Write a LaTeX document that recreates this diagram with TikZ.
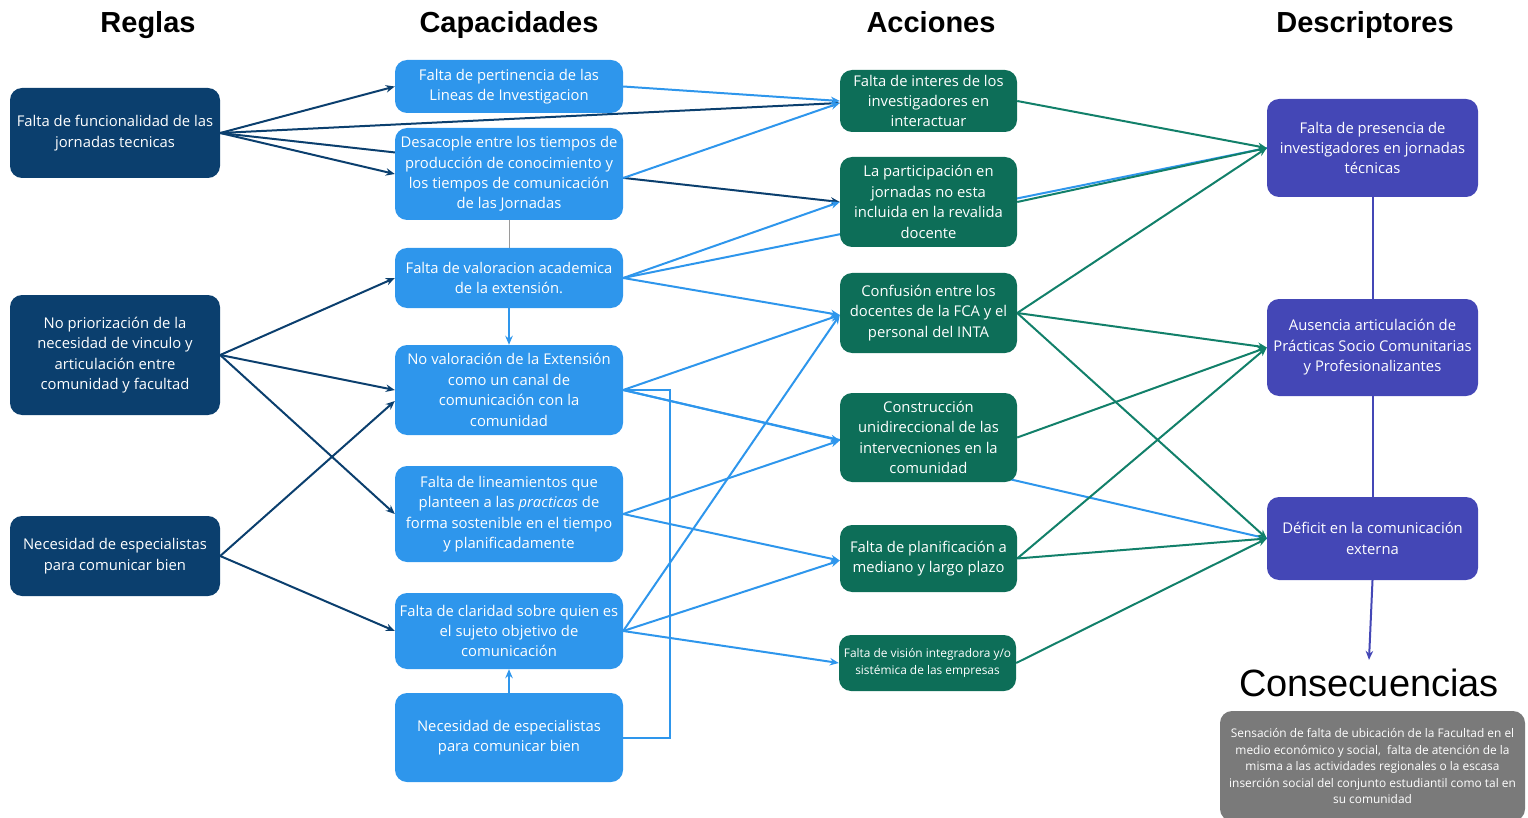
\documentclass[tikz,border=0pt]{standalone}
\usepackage{fontspec}
\setmainfont{Open Sans}
\newfontfamily\headfont{Liberation Sans}
\usetikzlibrary{arrows.meta}
\definecolor{navy}{HTML}{0B3F6E}
\definecolor{capblue}{HTML}{2E96EC}
\definecolor{actgreen}{HTML}{0D6E58}
\definecolor{linegreen}{HTML}{12806A}
\definecolor{indig}{HTML}{4447B6}
\definecolor{consgray}{HTML}{7A7A7A}
\definecolor{thingray}{HTML}{9A9A9A}
\pgfdeclarelayer{bg}
\pgfsetlayers{bg,main}
\tikzset{
  box/.style={rounded corners=12pt, text=white, align=center, inner sep=0pt,
    font=\fontsize{14.8}{20.4}\selectfont},
  rbox/.style={box, fill=navy, minimum width=210pt},
  cbox/.style={box, fill=capblue, minimum width=228pt},
  abox/.style={box, fill=actgreen, minimum width=177pt},
  dbox/.style={box, fill=indig, minimum width=211pt},
  head/.style={font=\headfont\bfseries\fontsize{29}{34}\selectfont, inner sep=0pt, anchor=base},
  tip/.style={-{Stealth[length=9pt,width=7.5pt]}},
  navline/.style={draw=navy, line width=2pt},
  navarr/.style={navline, tip},
  blueline/.style={draw=capblue, line width=2pt},
  bluearr/.style={blueline, tip},
  greenarr/.style={draw=linegreen, line width=2pt, tip},
  indline/.style={draw=indig, line width=2pt},
}
\begin{document}
\begin{tikzpicture}[x=1pt,y=-1pt]
\useasboundingbox (0,0) rectangle (1528,818);
% headers
\node[head] (hR) at (148,33) {Reglas};
\node[head] (hC) at (509,33) {Capacidades};
\node[head] (hA) at (931,33) {Acciones};
\node[head] (hD) at (1365,33) {Descriptores};
% Reglas
\node[rbox, minimum height=90pt] (R1) at (115,133) {Falta de funcionalidad de las\\jornadas tecnicas};
\node[rbox, minimum height=120pt] (R2) at (115,355) {No priorización de la\\necesidad de vinculo y\\articulación entre\\comunidad y facultad};
\node[rbox, minimum height=80pt] (R3) at (115,556) {Necesidad de especialistas\\para comunicar bien};
% Capacidades
\node[cbox, minimum height=53pt] (C1) at (509,86.5) {Falta de pertinencia de las\\Lineas de Investigacion};
\node[cbox, minimum height=92pt] (C2) at (509,174) {Desacople entre los tiempos de\\producción de conocimiento y\\los tiempos de comunicación\\de las Jornadas};
\node[cbox, minimum height=60pt] (C3) at (509,278) {Falta de valoracion academica\\de la extensión.};
\node[cbox, minimum height=90pt] (C4) at (509,390) {No valoración de la Extensión\\como un canal de\\comunicación con la\\comunidad};
\node[cbox, minimum height=96pt] (C5) at (509,514) {Falta de lineamientos que\\planteen a las \textit{practicas} de\\forma sostenible en el tiempo\\y planificadamente};
\node[cbox, minimum height=76pt] (C6) at (509,631) {Falta de claridad sobre quien es\\el sujeto objetivo de\\comunicación};
\node[cbox, minimum height=89pt] (C7) at (509,737.5) {Necesidad de especialistas\\para comunicar bien};
% Acciones
\node[abox, minimum height=62pt] (A1) at (928.5,101) {Falta de interes de los\\investigadores en\\interactuar};
\node[abox, minimum height=90pt] (A2) at (928.5,202) {La participación en\\jornadas no esta\\incluida en la revalida\\docente};
\node[abox, minimum height=80pt] (A3) at (928.5,313) {Confusión entre los\\docentes de la FCA y el\\personal del INTA};
\node[abox, minimum height=89pt] (A4) at (928.5,437.5) {Construcción\\unidireccional de las\\intervecniones en la\\comunidad};
\node[abox, minimum height=67pt] (A5) at (928.5,558.5) {Falta de planificación a\\mediano y largo plazo};
\node[abox, minimum height=56pt, font=\fontsize{11.9}{16.5}\selectfont] (A6) at (927.5,663) {Falta de visión integradora y/o\\sistémica de las empresas};
% Descriptores
\node[dbox, minimum height=98pt] (D1) at (1372.5,148) {Falta de presencia de\\investigadores en jornadas\\técnicas};
\node[dbox, minimum height=97pt] (D2) at (1372.5,347.5) {Ausencia articulación de\\Prácticas Socio Comunitarias\\y Profesionalizantes};
\node[dbox, minimum height=83pt] (D3) at (1372.5,538.5) {Déficit en la comunicación\\externa};
% Consecuencias
\node[font=\headfont\fontsize{38}{44}\selectfont, inner xsep=0pt, inner ysep=9pt] (T) at (1369,683) {Consecuencias};
\node[box, fill=consgray, minimum width=305pt, minimum height=110pt, font=\fontsize{11.9}{16.5}\selectfont] (K) at (1372.5,766) {Sensación de falta de ubicación de la Facultad en el\\medio económico y social,\ \ falta de atención de la\\misma a las actividades regionales o la escasa\\inserción social del conjunto estudiantil como tal en\\su comunidad};

\begin{pgfonlayer}{bg}
% Reglas -> Capacidades / Acciones
\draw[navarr] (R1.east) -- (C1.west);
\draw[navarr] (R1.east) -- ([yshift=-2pt]A1.west);
\draw[navarr] (R1.east) -- (A2.west);
\draw[navarr] (R1.east) -- (C2.west);
\draw[navarr] (R2.east) -- (C3.west);
\draw[navarr] (R2.east) -- (C4.west);
\draw[navarr] (R2.east) -- (C5.west);
\draw[navarr] (R3.east) -- ([yshift=-11pt]C4.west);
\draw[navarr] (R3.east) -- (C6.west);
% Capacidades internal
\draw[draw=thingray, line width=0.9pt] (C2.south) -- (C3.north);
\draw[bluearr] (C3.south) -- (C4.north);
\draw[bluearr] (C7.north) -- (C6.south);
\draw[blueline] (C7.east) -- ++(47,0) |- (C4.east);
% Capacidades -> Acciones
\draw[bluearr] (C1.east) -- (A1.west);
\draw[bluearr] ([yshift=-4pt]C2.east) -- ([yshift=-2pt]A1.west);
\draw[bluearr] (C3.east) -- (A2.west);
\draw[blueline] (C3.east) -- (D1.west);
\draw[bluearr] (C3.east) -- ([yshift=-2pt]A3.west);
\draw[bluearr] (C4.east) -- ([yshift=-2pt]A3.west);
\draw[bluearr] (C4.east) -- ([yshift=-3pt]A4.west);
\draw[blueline] (C4.east) -- (D3.west);
\draw[bluearr] (C5.east) -- ([yshift=-3pt]A4.west);
\draw[bluearr] (C5.east) -- ([yshift=-2pt]A5.west);
\draw[bluearr] (C6.east) -- ([yshift=-2pt]A3.west);
\draw[bluearr] (C6.east) -- ([yshift=-2pt]A5.west);
\draw[bluearr] (C6.east) -- (A6.west);
% Acciones -> Descriptores
\draw[greenarr] (A1.east) -- (D1.west);
\draw[greenarr] (A2.east) -- (D1.west);
\draw[greenarr] (A3.east) -- (D1.west);
\draw[greenarr] (A3.east) -- (D2.west);
\draw[greenarr] (A3.east) -- (D3.west);
\draw[greenarr] (A4.east) -- (D2.west);
\draw[greenarr] (A5.east) -- (D2.west);
\draw[greenarr] (A5.east) -- (D3.west);
\draw[greenarr] (A6.east) -- (D3.west);
% Descriptores chain
\draw[indline] (D1.south) -- (D2.north);
\draw[indline] (D2.south) -- (D3.north);
\draw[indline, tip] (D3.south) -- (T.north);
\end{pgfonlayer}
\end{tikzpicture}
\end{document}
